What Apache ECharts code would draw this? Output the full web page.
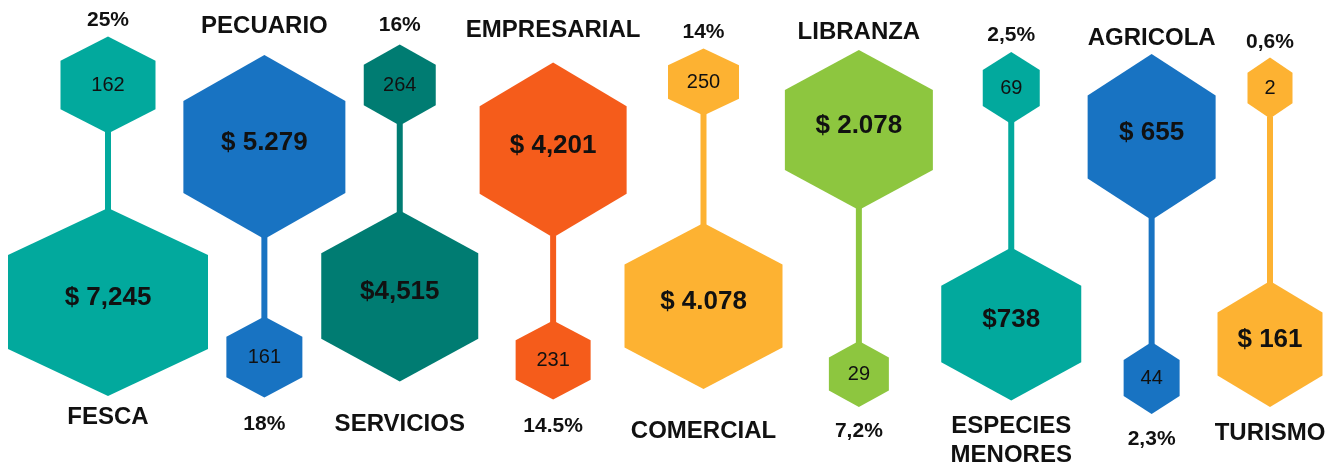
<!DOCTYPE html>
<html>
<head>
<meta charset="utf-8">
<title>Cartera por línea</title>
<script src="https://cdn.jsdelivr.net/npm/echarts@6/dist/echarts.min.js"></script>
<style>
    html, body { margin: 0; padding: 0; background: #ffffff; }
    #chart { width: 1331px; height: 468px; }
</style>
</head>
<body>
<div id="chart"></div>
<script>
// Chart data
const categories = ['FESCA', 'PECUARIO', 'SERVICIOS', 'EMPRESARIAL', 'COMERCIAL', 'LIBRANZA', 'ESPECIES\nMENORES', 'AGRICOLA', 'TURISMO'];
const amountText = ['$ 7,245', '$ 5.279', '$4,515', '$ 4,201', '$ 4.078', '$ 2.078', '$738', '$ 655', '$ 161'];
const counts = [162, 161, 264, 231, 250, 29, 69, 44, 2];
const shares = ['25%', '18%', '16%', '14.5%', '14%', '7,2%', '2,5%', '2,3%', '0,6%'];

// Colours per column
const colors = ['#02a99d', '#1873c2', '#007c72', '#f55c1b', '#fdb232', '#8dc63f', '#02a99d', '#1873c2', '#fdb232'];

// Layout (pixels): hexagon sizes, vertical placement, small horizontal nudges
const bigSize = [[200, 188], [162, 184], [157, 171], [147, 175], [158, 166], [148, 160], [140, 153], [128, 166], [105, 126]];
const smallSize = [[95, 97], [76, 81], [72, 81], [75, 79], [71, 67], [60, 66], [57, 72], [56, 72], [45, 61]];
const bigY = [302, 147, 296, 150, 306, 130, 324, 137, 344];
const smallY = [85, 357, 85, 360, 82, 374, 88, 378, 88];
const topTextY = [20, 26, 25, 30, 32, 32, 35, 38, 42];
const bottomTextY = [417, 424, 424, 426, 431, 431, 441, 439, 433];
const colShift = [-5, 4, -8, -2, 1, 9, 14, 7, -22];

const FONT = '"Liberation Sans", Arial, sans-serif';

document.addEventListener('DOMContentLoaded', function() {
    initializeChart();
});

function hexPoints(cx, cy, w, h) {
    return [
        [cx, cy - h / 2],
        [cx + w / 2, cy - h / 4],
        [cx + w / 2, cy + h / 4],
        [cx, cy + h / 2],
        [cx - w / 2, cy + h / 4],
        [cx - w / 2, cy - h / 4]
    ];
}

function textEl(text, x, y, size, weight, shadow) {
    return {
        type: 'text',
        style: {
            text: text,
            x: x,
            y: y,
            align: 'center',
            verticalAlign: 'middle',
            fontFamily: FONT,
            fontSize: size,
            fontWeight: weight,
            lineHeight: 29,
            fill: '#111111',
            shadowColor: shadow ? 'rgba(0, 0, 0, 0.35)' : 'transparent',
            shadowOffsetX: shadow ? 1.5 : 0,
            shadowOffsetY: shadow ? 1.5 : 0,
            shadowBlur: 0
        }
    };
}

function renderColumn(params, api) {
    const i = api.value(0);
    const bigOnTop = i % 2 === 1;
    const cx = api.coord([i, 0])[0] + colShift[i];
    const yOf = function(v) { return api.coord([i, v])[1]; };
    const color = colors[i];

    const bigCy = yOf(bigY[i]);
    const smallCy = yOf(smallY[i]);
    const bw = bigSize[i][0], bh = bigSize[i][1];
    const sw = smallSize[i][0], sh = smallSize[i][1];

    // connector between the two hexagons
    const y1 = bigOnTop ? bigCy + bh / 2 - 2 : smallCy + sh / 2 - 2;
    const y2 = bigOnTop ? smallCy - sh / 2 + 2 : bigCy - bh / 2 + 2;

    const labelText = categories[i];
    const topText = bigOnTop ? textEl(labelText, cx, yOf(topTextY[i]), 24, 'bold', true)
                             : textEl(shares[i], cx, yOf(topTextY[i]), 21, 'bold', false);
    const bottomText = bigOnTop ? textEl(shares[i], cx, yOf(bottomTextY[i]), 21, 'bold', false)
                                : textEl(labelText, cx, yOf(bottomTextY[i]), 24, 'bold', true);

    return {
        type: 'group',
        children: [
            {
                type: 'rect',
                shape: { x: cx - 3, y: y1, width: 6, height: y2 - y1 },
                style: { fill: color }
            },
            {
                type: 'polygon',
                shape: { points: hexPoints(cx, bigCy, bw, bh) },
                style: { fill: color }
            },
            {
                type: 'polygon',
                shape: { points: hexPoints(cx, smallCy, sw, sh) },
                style: { fill: color }
            },
            textEl(amountText[i], cx, bigCy - 4, 26, 'bold', false),
            textEl(String(counts[i]), cx, smallCy, 20, 'normal', false),
            topText,
            bottomText
        ]
    };
}

function initializeChart() {
    const chart = echarts.init(document.getElementById('chart'), null, { renderer: 'canvas' });
    const option = {
        backgroundColor: '#ffffff',
        animation: false,
        grid: { left: 113, right: 39, top: 0, bottom: 0 },
        xAxis: {
            type: 'category',
            data: categories,
            boundaryGap: false,
            show: false
        },
        yAxis: {
            type: 'value',
            min: 0,
            max: 468,
            inverse: true,
            show: false
        },
        series: [{
            type: 'custom',
            coordinateSystem: 'cartesian2d',
            renderItem: renderColumn,
            encode: { x: 0, y: 1 },
            data: categories.map(function(c, i) { return [i, 0]; })
        }]
    };
    chart.setOption(option);
}
</script>
</body>
</html>
